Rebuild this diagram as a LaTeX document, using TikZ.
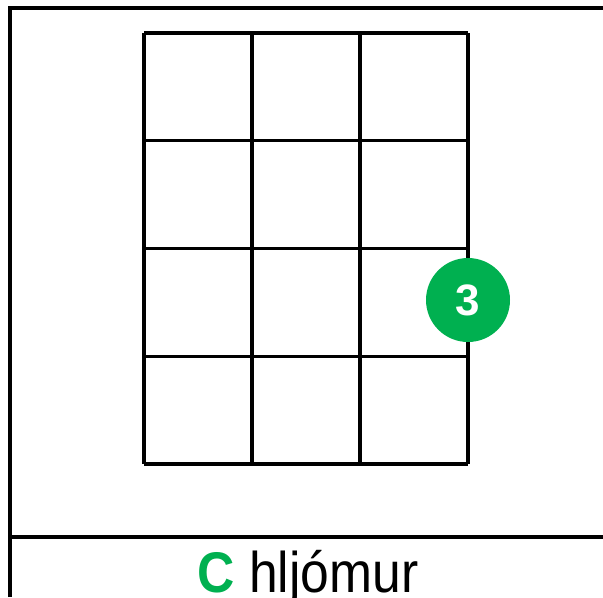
\documentclass[tikz,border=0pt]{standalone}
\usepackage{fontspec}
\setmainfont{Liberation Sans}
\usepackage{tikz}
\usetikzlibrary{positioning}
\definecolor{chordgreen}{HTML}{00B050}
\tikzset{
	frameline/.style={black, line width=2.3pt},
	fretline/.style={black, line width=2.4pt},
	finger/.style={circle, minimum size=63pt, inner sep=0pt, fill=chordgreen, text=white, font=\fontsize{33}{33}\selectfont\bfseries},
	chordname/.style={inner sep=0pt, xscale=0.9, font=\fontsize{43}{43}\selectfont}
}

\begin{document}
\begin{tikzpicture}[x=0.75pt, y=-0.75pt]
\useasboundingbox (0,0) rectangle (603,597);
	\coordinate (f1) at (10,597);
	\coordinate (f2) at (10,8);
	\coordinate (f3) at (603,8);
\coordinate (b1) at (10,537);
\coordinate (b2) at (603,537);
\draw [frameline] (f1) -- (f2) -- (f3);
\draw [frameline] (b1) -- (b2);
% grid
\foreach \i in {0,...,3} {
	\draw [fretline] (144+108*\i,33) -- (144+108*\i,464);
}
\foreach \j in {0,...,4} {
	\draw [fretline] (144,33+107.75*\j) -- (468,33+107.75*\j);
}
\node [finger] (n3) at (468,300) {3};
\node [chordname, anchor=base] (name) at (308,592) {{\color{chordgreen}\bfseries C} hljómur};
\end{tikzpicture}
\end{document}
